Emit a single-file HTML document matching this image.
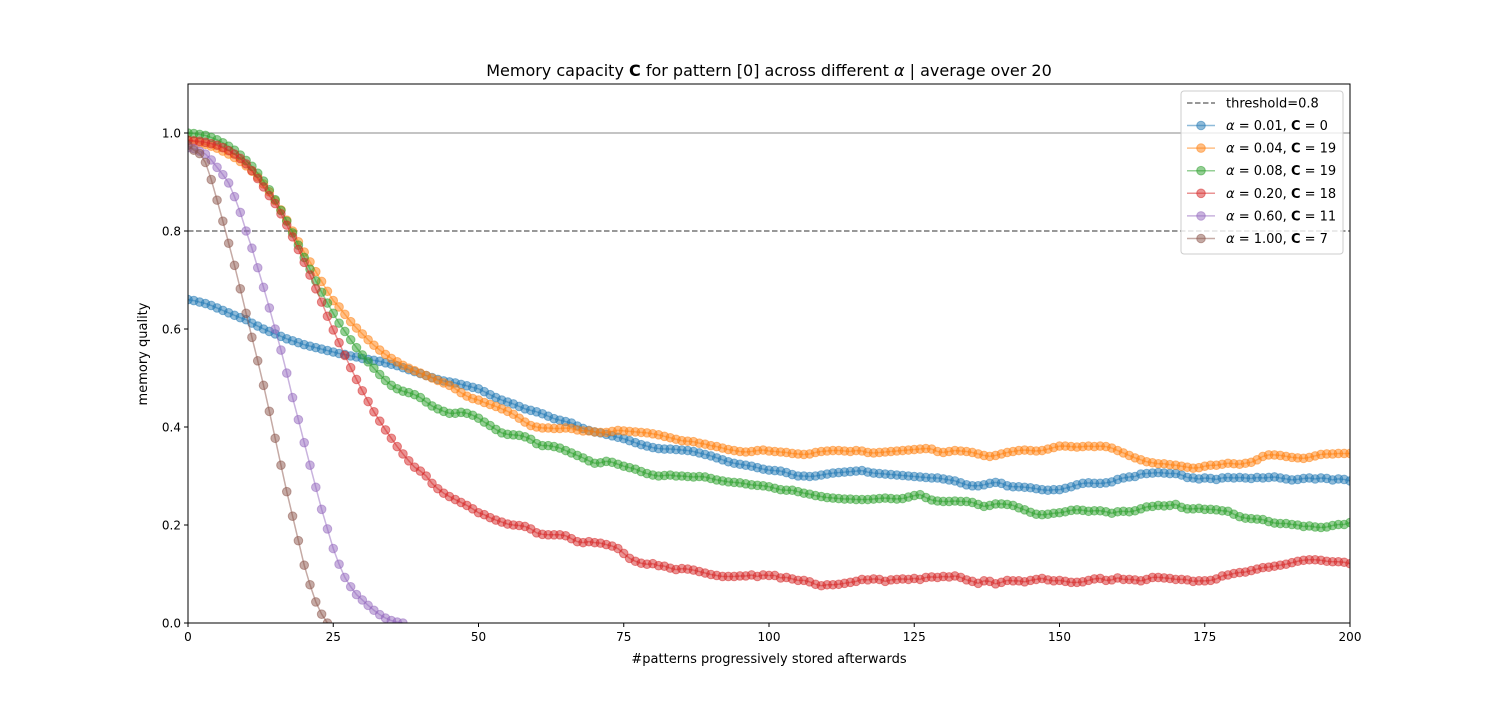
<!DOCTYPE html>
<html><head><meta charset="utf-8"><style>
body{margin:0;background:#fff;font-family:"DejaVu Sans","Liberation Sans",sans-serif;}
svg text{font-family:"DejaVu Sans","Liberation Sans",sans-serif;fill:#000;}
</style></head><body>
<svg id="chart" width="1500" height="700" viewBox="0 0 1500 700" xmlns="http://www.w3.org/2000/svg">
<defs><clipPath id="clip"><rect x="188" y="84" width="1162" height="539"/></clipPath></defs>
<text x="769" y="76" font-size="16" text-anchor="middle">Memory capacity <tspan font-weight="bold">C</tspan> for pattern [0] across different <tspan font-style="italic">α</tspan> | average over 20</text>
<g id="grid"></g>
<g id="series" clip-path="url(#clip)"></g>
<rect x="188" y="84" width="1162" height="539" fill="none" stroke="#000" stroke-width="1"/>
<g id="axes"></g>
<text x="769" y="663" font-size="13" text-anchor="middle">#patterns progressively stored afterwards</text>
<text transform="translate(147,354) rotate(-90)" font-size="13" text-anchor="middle">memory quality</text>
<g id="legend"></g>
</svg>
<script>
const xTicks=[0,25,50,75,100,125,150,175,200];
const yTicks=[0.0,0.2,0.4,0.6,0.8,1.0];
const threshold=0.8;
const seriesNames=["α = 0.01, C = 0","α = 0.04, C = 19","α = 0.08, C = 19","α = 0.20, C = 18","α = 0.60, C = 11","α = 1.00, C = 7"];
const alphaLabels=["0.01","0.04","0.08","0.20","0.60","1.00"];
const capLabels=["0","19","19","18","11","7"];
const colors=["#1f77b4","#ff7f0e","#2ca02c","#d62728","#9467bd","#8c564b"];
const s001=[.66,.658,.655,.652,.648,.643,.638,.633,.628,.623,.619,.612,.606,.600,.595,.590,.585,.580,.576,.572,.568,.565,.562,.559,.556,.553,.550,.548,.545,.543,.540,.538,.536,.534,.531,.528,.525,.521,.517,.513,.509,.505,.501,.497,.494,.492,.490,.487,.484,.481,.478,.472,.466,.460,.455,.451,.447,.442,.437,.434,.431,.427,.422,.417,.414,.411,.408,.402,.397,.393,.390,.388,.385,.382,.379,.376,.372,.368,.364,.361,.358,.356,.355,.355,.354,.353,.352,.350,.347,.344,.341,.337,.333,.329,.326,.324,.322,.320,.317,.314,.312,.311,.310,.307,.303,.300,.300,.299,.300,.302,.304,.306,.307,.308,.309,.310,.311,.308,.306,.305,.304,.303,.302,.301,.300,.299,.298,.297,.296,.296,.294,.292,.290,.286,.282,.280,.280,.282,.285,.287,.285,.280,.278,.278,.277,.276,.274,.272,.271,.272,.272,.275,.278,.282,.285,.286,.285,.285,.286,.288,.293,.296,.298,.299,.304,.305,.306,.307,.306,.305,.305,.302,.297,.296,.294,.296,.295,.293,.296,.297,.296,.297,.296,.295,.297,.296,.297,.298,.296,.294,.292,.293,.295,.296,.294,.296,.295,.292,.294,.293,.290];
const s004=[.985,.983,.980,.977,.973,.969,.963,.957,.950,.942,.933,.922,.910,.896,.880,.862,.843,.822,.800,.778,.757,.737,.717,.697,.677,.658,.645,.630,.615,.602,.590,.578,.567,.557,.548,.540,.533,.526,.520,.515,.510,.505,.500,.495,.490,.485,.478,.470,.463,.458,.455,.450,.446,.442,.437,.432,.426,.418,.410,.403,.400,.398,.398,.397,.397,.398,.397,.394,.392,.392,.390,.389,.389,.391,.393,.392,.391,.390,.389,.388,.386,.384,.381,.378,.375,.372,.371,.370,.367,.365,.362,.360,.357,.354,.352,.350,.349,.350,.352,.353,.351,.350,.349,.348,.346,.345,.344,.345,.348,.350,.351,.352,.352,.351,.350,.352,.351,.348,.347,.348,.349,.350,.351,.352,.353,.354,.355,.356,.355,.350,.348,.350,.352,.351,.350,.348,.345,.342,.340,.342,.345,.348,.350,.352,.353,.352,.351,.352,.355,.358,.361,.361,.360,.359,.360,.361,.360,.361,.360,.357,.352,.347,.342,.337,.333,.329,.327,.325,.325,.323,.322,.320,.318,.316,.317,.320,.322,.322,.324,.326,.325,.324,.326,.328,.333,.340,.343,.343,.342,.340,.338,.337,.336,.338,.341,.344,.345,.345,.346,.346,.346];
const s008=[1.0,.999,.997,.995,.991,.986,.980,.973,.965,.955,.944,.932,.918,.902,.884,.864,.842,.820,.796,.771,.746,.722,.698,.675,.653,.632,.612,.595,.578,.562,.547,.533,.520,.507,.495,.485,.478,.473,.470,.466,.460,.451,.443,.437,.432,.428,.428,.430,.428,.424,.418,.410,.403,.395,.388,.385,.384,.383,.380,.375,.366,.362,.362,.360,.357,.352,.347,.342,.337,.331,.326,.327,.330,.328,.324,.320,.317,.314,.309,.305,.302,.300,.301,.302,.300,.300,.299,.298,.299,.298,.295,.292,.290,.288,.287,.286,.284,.282,.281,.280,.278,.275,.272,.271,.271,.268,.265,.263,.260,.258,.256,.255,.254,.253,.253,.252,.252,.252,.253,.254,.255,.254,.253,.254,.257,.260,.262,.256,.251,.249,.248,.248,.249,.248,.248,.246,.242,.238,.240,.243,.243,.242,.240,.235,.231,.226,.222,.221,.222,.224,.225,.227,.230,.231,.230,.228,.229,.229,.227,.224,.227,.228,.227,.229,.233,.237,.238,.240,.239,.240,.242,.236,.233,.233,.234,.232,.232,.231,.229,.228,.222,.217,.214,.213,.212,.211,.207,.204,.203,.203,.201,.200,.197,.198,.196,.195,.196,.199,.201,.201,.205];
const s020=[.985,.984,.983,.981,.978,.975,.970,.964,.957,.948,.937,.923,.907,.890,.872,.856,.835,.812,.788,.762,.736,.710,.682,.655,.626,.598,.572,.546,.521,.497,.474,.452,.431,.412,.394,.377,.360,.345,.331,.318,.310,.300,.285,.274,.265,.258,.252,.246,.240,.233,.225,.221,.215,.210,.206,.202,.200,.199,.197,.192,.184,.181,.180,.180,.180,.178,.172,.166,.164,.166,.164,.163,.160,.157,.152,.142,.132,.126,.122,.120,.121,.117,.116,.112,.109,.111,.110,.108,.105,.102,.099,.097,.095,.095,.095,.096,.096,.098,.095,.098,.097,.097,.092,.093,.090,.087,.087,.084,.079,.076,.078,.078,.079,.081,.083,.085,.089,.088,.090,.089,.085,.088,.089,.090,.089,.091,.089,.093,.094,.093,.095,.094,.096,.093,.088,.085,.081,.086,.085,.080,.083,.087,.086,.086,.084,.087,.089,.091,.088,.086,.087,.085,.083,.083,.084,.087,.090,.091,.087,.088,.092,.089,.089,.088,.086,.089,.093,.093,.092,.091,.089,.089,.088,.085,.086,.086,.087,.090,.096,.098,.101,.103,.104,.107,.110,.113,.114,.116,.118,.120,.123,.126,.128,.129,.129,.128,.126,.125,.125,.124,.121];
const s060=[.97,.968,.963,.957,.945,.930,.915,.898,.870,.838,.800,.765,.725,.685,.643,.600,.557,.510,.460,.415,.368,.322,.277,.232,.192,.152,.120,.093,.074,.058,.047,.036,.026,.017,.010,.005,.002,.0];
const s100=[.975,.965,.958,.940,.905,.863,.820,.775,.730,.682,.632,.583,.535,.485,.432,.377,.322,.268,.218,.168,.118,.078,.043,.018,.0];
const allSeries=[s001,s004,s008,s020,s060,s100];
const seriesKeys=["alpha-0-01","alpha-0-04","alpha-0-08","alpha-0-20","alpha-0-60","alpha-1-00"];

const X0=188,X1=1350,Y0=623,Y1=84,XMIN=0,XMAX=200,YMIN=0,YMAX=1.1;
const xs=v=>X0+(v-XMIN)/(XMAX-XMIN)*(X1-X0);
const ys=v=>Y0-(v-YMIN)/(YMAX-YMIN)*(Y0-Y1);
const NS="http://www.w3.org/2000/svg";
function mk(tag,attrs,parent){const e=document.createElementNS(NS,tag);for(const k in attrs)e.setAttribute(k,attrs[k]);parent.appendChild(e);return e;}

const grid=document.getElementById('grid');
const l1=mk('line',{x1:X0,x2:X1,y1:ys(1.0),y2:ys(1.0),stroke:'#b0b0b0','stroke-width':1.5},grid);


const th=mk('line',{x1:X0,x2:X1,y1:ys(threshold),y2:ys(threshold),stroke:'#777','stroke-width':1.5,'stroke-dasharray':'5.5,2.5'},grid);



const axes=document.getElementById('axes');
xTicks.forEach(t=>{
  const g=mk('g',{},axes);
  
  
  mk('line',{x1:xs(t),x2:xs(t),y1:Y0,y2:Y0+4,stroke:'#000'},g);
  const tx=mk('text',{x:xs(t),y:Y0+18,'font-size':12,'text-anchor':'middle'},g);tx.textContent=t;
});
yTicks.forEach(t=>{
  const g=mk('g',{},axes);
  
  
  mk('line',{x1:X0-4,x2:X0,y1:ys(t),y2:ys(t),stroke:'#000'},g);
  const tx=mk('text',{x:X0-7,y:ys(t)+4.5,'font-size':12,'text-anchor':'end'},g);tx.textContent=t.toFixed(1);
});

const sg=document.getElementById('series');
allSeries.forEach((arr,i)=>{
  const g=mk('g',{},sg);
  
  
  const pts=arr.map((v,j)=>xs(j).toFixed(2)+','+ys(v).toFixed(2)).join(' ');
  mk('polyline',{points:pts,fill:'none',stroke:colors[i],'stroke-width':1.5,'stroke-opacity':0.5},g);
  arr.forEach((v,j)=>{
    const c=mk('circle',{cx:xs(j),cy:ys(v),r:4.3,fill:colors[i],'fill-opacity':0.5,stroke:colors[i],'stroke-opacity':0.5,'stroke-width':1},g);
    
    
  });
});

const lg=document.getElementById('legend');
mk('rect',{x:1181,y:91,width:162,height:163,rx:3,fill:'#fff','fill-opacity':0.8,stroke:'#ccc'},lg);
const e0=mk('g',{},lg);


mk('line',{x1:1187,x2:1215,y1:103,y2:103,stroke:'#777','stroke-width':1.5,'stroke-dasharray':'5.5,2.5'},e0);
const t0=mk('text',{x:1226,y:107.5,'font-size':13},e0);t0.textContent='threshold=0.8';
alphaLabels.forEach((a,i)=>{
  const y=125.5+i*22.6;
  const g=mk('g',{},lg);
  
  
  mk('line',{x1:1187,x2:1215,y1:y,y2:y,stroke:colors[i],'stroke-width':1.5,'stroke-opacity':0.5},g);
  mk('circle',{cx:1201,cy:y,r:4.3,fill:colors[i],'fill-opacity':0.5,stroke:colors[i],'stroke-opacity':0.5},g);
  const t=mk('text',{x:1226,y:y+4.5,'font-size':13},g);
  t.innerHTML='<tspan font-style="italic">α</tspan> = '+a+', <tspan font-weight="bold">C</tspan> = '+capLabels[i];
});
</script>
</body></html>
